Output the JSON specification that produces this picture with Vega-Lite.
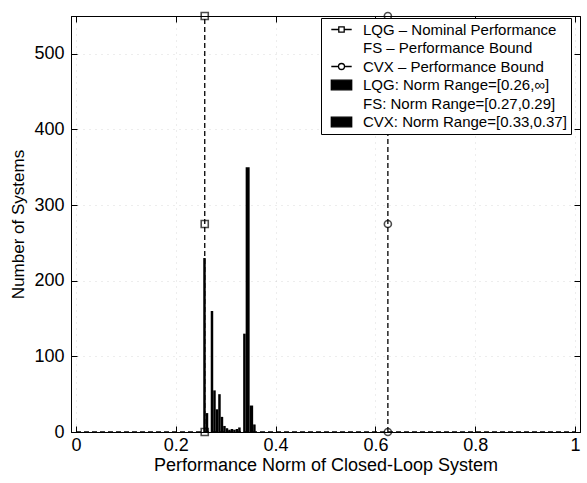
{
  "$schema": "https://vega.github.io/schema/vega-lite/v6.json",
  "width": 509,
  "height": 416,
  "autosize": {"type": "none"},
  "padding": {"left": 71, "top": 16, "right": 7, "bottom": 51},
  "background": "white",
  "config": {
    "font": "Liberation Sans",
    "view": {"stroke": "black", "strokeWidth": 1},
    "axis": {"labelColor": "black", "titleColor": "black", "domainColor": "black", "tickColor": "black", "titleFontWeight": "normal", "labelFont": "Liberation Sans", "titleFont": "Liberation Sans"}
  },
  "datasets": {
    "bars": [
      {"method": "LQG", "start": 0.255, "end": 0.26, "count": 230},
      {"method": "LQG", "start": 0.26, "end": 0.265, "count": 25},
      {"method": "FS", "start": 0.27, "end": 0.275, "count": 160},
      {"method": "FS", "start": 0.275, "end": 0.28, "count": 55},
      {"method": "FS", "start": 0.28, "end": 0.285, "count": 30},
      {"method": "FS", "start": 0.285, "end": 0.29, "count": 50},
      {"method": "FS", "start": 0.29, "end": 0.295, "count": 20},
      {"method": "FS", "start": 0.295, "end": 0.3, "count": 8},
      {"method": "LQG", "start": 0.3, "end": 0.305, "count": 5},
      {"method": "LQG", "start": 0.305, "end": 0.31, "count": 3},
      {"method": "LQG", "start": 0.31, "end": 0.315, "count": 4},
      {"method": "LQG", "start": 0.315, "end": 0.32, "count": 3},
      {"method": "LQG", "start": 0.32, "end": 0.325, "count": 4},
      {"method": "LQG", "start": 0.325, "end": 0.33, "count": 6},
      {"method": "CVX", "start": 0.335, "end": 0.34, "count": 130},
      {"method": "CVX", "start": 0.34, "end": 0.348, "count": 350},
      {"method": "CVX", "start": 0.348, "end": 0.355, "count": 35},
      {"method": "CVX", "start": 0.355, "end": 0.36, "count": 10}
    ],
    "lines": [
      {"series": "LQG – Nominal Performance", "x": 0.258, "y": 0, "order": 1},
      {"series": "LQG – Nominal Performance", "x": 0.258, "y": 275, "order": 2},
      {"series": "LQG – Nominal Performance", "x": 0.258, "y": 550, "order": 3},
      {"series": "CVX – Performance Bound", "x": 0.625, "y": 0, "order": 1},
      {"series": "CVX – Performance Bound", "x": 0.625, "y": 275, "order": 2},
      {"series": "CVX – Performance Bound", "x": 0.625, "y": 550, "order": 3}
    ],
    "baseline": [
      {"x": 0, "x2": 1, "y": 0}
    ]
  },
  "layer": [
    {
      "data": {"name": "bars"},
      "mark": {"type": "bar", "color": "black", "orient": "vertical"},
      "encoding": {
        "x": {"field": "start", "type": "quantitative",
          "scale": {"domain": [0, 1], "nice": false, "zero": false},
          "axis": {"values": [0, 0.2, 0.4, 0.6, 0.8, 1], "format": "~g", "title": "Performance Norm of Closed-Loop System",
            "labelFontSize": 18, "titleFontSize": 18, "tickSize": -6, "labelPadding": 10, "titlePadding": 2,
            "labelFlush": false, "labelOverlap": false,
            "grid": true, "gridColor": "#999", "gridDash": [1, 5], "gridOpacity": 0.35}},
        "x2": {"field": "end"},
        "y": {"field": "count", "type": "quantitative",
          "scale": {"domain": [0, 550], "nice": false},
          "axis": {"values": [0, 100, 200, 300, 400, 500], "title": "Number of Systems",
            "labelFontSize": 18, "titleFontSize": 17, "tickSize": -6, "labelPadding": 13, "titlePadding": 6,
            "labelOverlap": false,
            "grid": true, "gridColor": "#999", "gridDash": [1, 5], "gridOpacity": 0.35}},
        "y2": {"datum": 0}
      }
    },
    {
      "data": {"name": "baseline"},
      "mark": {"type": "rule", "color": "black", "strokeWidth": 1.3, "strokeDash": [5, 3]},
      "encoding": {
        "x": {"field": "x", "type": "quantitative", "axis": null},
        "x2": {"field": "x2"},
        "y": {"field": "y", "type": "quantitative", "axis": null}
      }
    },
    {
      "data": {"name": "lines"},
      "mark": {"type": "line", "color": "black", "strokeWidth": 1.3, "strokeDash": [5, 3]},
      "encoding": {
        "x": {"field": "x", "type": "quantitative",
          "scale": {"domain": [0, 1], "nice": false, "zero": false},
          "axis": {"orient": "top", "values": [0, 0.2, 0.4, 0.6, 0.8, 1], "labels": false, "title": null, "tickSize": -6, "grid": false}},
        "y": {"field": "y", "type": "quantitative",
          "scale": {"domain": [0, 550], "nice": false},
          "axis": {"orient": "right", "values": [0, 100, 200, 300, 400, 500], "labels": false, "title": null, "tickSize": -6, "grid": false}},
        "order": {"field": "order"},
        "opacity": {"field": "series", "type": "nominal",
          "scale": {
            "domain": ["LQG – Nominal Performance", "FS – Performance Bound", "CVX – Performance Bound", "LQG: Norm Range=[0.26,∞]", "FS: Norm Range=[0.27,0.29]", "CVX: Norm Range=[0.33,0.37]"],
            "range": [1, 1, 1, 1, 1, 1]
          },
          "legend": {
            "title": null, "orient": "none", "legendX": 250, "legendY": 2,
            "values": ["LQG – Nominal Performance", "FS – Performance Bound", "CVX – Performance Bound", "LQG: Norm Range=[0.26,∞]", "FS: Norm Range=[0.27,0.29]", "CVX: Norm Range=[0.33,0.37]"],
            "fillColor": "white", "strokeColor": "black", "padding": 4,
            "labelFontSize": 15, "labelFont": "Liberation Sans", "labelColor": "black", "labelLimit": 400,
            "symbolSize": 144, "rowPadding": 2.5, "symbolOffset": 9, "labelOffset": 14, "symbolStrokeWidth": 1.3,
            "symbolType": {"expr": "datum.value === 'LQG – Nominal Performance' ? 'M-1.7,0H-0.45M0.45,0H1.7M-0.45,-0.45H0.45V0.45H-0.45Z' : datum.value === 'CVX – Performance Bound' ? 'M-1.7,0H-0.5M0.5,0H1.7M0.5,0A0.5,0.5 0 1,1 -0.5,0A0.5,0.5 0 1,1 0.5,0Z' : datum.value === 'FS – Performance Bound' ? 'M0,0' : 'M-1.7,-0.8H1.7V0.8H-1.7Z'"},
            "symbolFillColor": {"expr": "indexof(datum.value, 'FS') === 0 ? 'transparent' : indexof(datum.value, 'Norm Range') > 0 ? 'black' : 'white'"},
            "symbolStrokeColor": {"expr": "indexof(datum.value, 'FS') === 0 ? 'transparent' : 'black'"}
          }
        }
      }
    },
    {
      "data": {"name": "lines"},
      "mark": {"type": "point", "filled": false, "color": "black", "strokeWidth": 1.6, "size": 50, "clip": false},
      "encoding": {
        "x": {"field": "x", "type": "quantitative", "axis": null},
        "y": {"field": "y", "type": "quantitative", "axis": null},
        "shape": {"field": "series", "type": "nominal",
          "scale": {"domain": ["LQG – Nominal Performance", "CVX – Performance Bound"], "range": ["square", "circle"]},
          "legend": null}
      }
    }
  ],
  "resolve": {"axis": {"x": "independent", "y": "independent"}}
}
